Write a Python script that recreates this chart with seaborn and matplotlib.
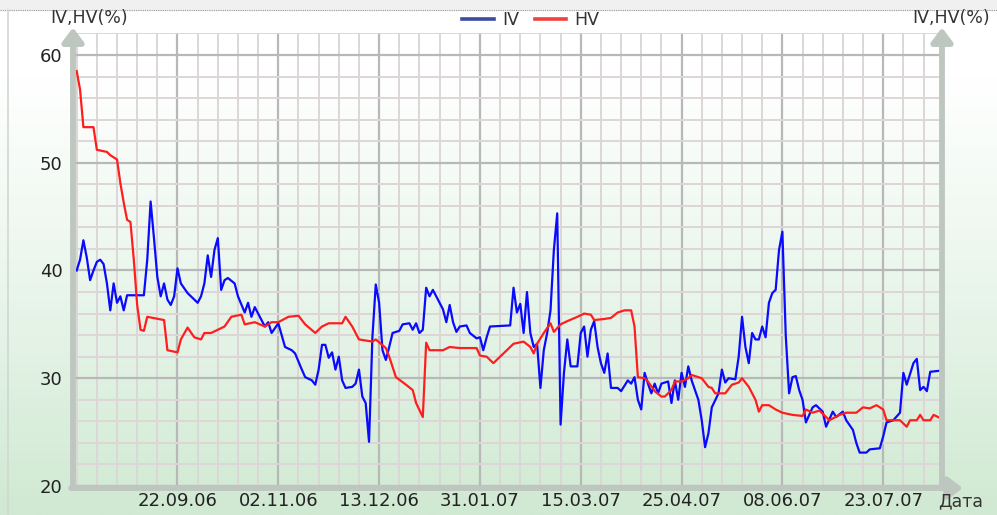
import numpy as np
import pandas as pd
import matplotlib
matplotlib.use("Agg")
import matplotlib.pyplot as plt
import seaborn as sns
from matplotlib.colors import LinearSegmentedColormap
from matplotlib.lines import Line2D
from matplotlib.patches import Rectangle

# trading-session number (x) and value in % for each series
hv_day = [0, 1, 2, 5, 6, 9, 10, 12, 13, 14, 15, 16, 17, 18, 19, 20, 21, 26, 27, 30,
          31, 33, 35, 37, 38, 40, 42, 44, 46, 49, 50, 53, 56, 58, 60, 63, 66, 68, 71, 73,
          75, 79, 80, 82, 84, 88, 89, 92, 93, 95, 98, 100, 101, 103, 104, 105, 109, 111, 114, 119,
          120, 122, 124, 126, 127, 130, 133, 135, 136, 137, 139, 141, 142, 144, 146, 149, 151, 153, 154, 157,
          159, 161, 163, 165, 166, 167, 169, 170, 172, 174, 175, 177, 178, 180, 182, 183, 186, 188, 189, 190,
          193, 195, 197, 198, 200, 202, 203, 204, 206, 208, 210, 213, 216, 217, 219, 221, 223, 224, 227, 229,
          232, 234, 236, 238, 240, 241, 245, 247, 248, 250, 251, 252, 254, 255, 257]
hv_val = [58.5, 56.8, 53.3, 53.3, 51.2, 51.0, 50.7, 50.3, 48.1, 46.3, 44.7, 44.5, 41.0, 36.8, 34.5, 34.4, 35.7, 35.4, 32.6, 32.4,
          33.6, 34.7, 33.8, 33.6, 34.2, 34.2, 34.5, 34.8, 35.7, 35.9, 35.0, 35.2, 34.8, 35.2, 35.2, 35.7, 35.8, 35.0, 34.2, 34.8,
          35.1, 35.1, 35.7, 34.8, 33.6, 33.4, 33.6, 32.8, 32.0, 30.1, 29.4, 28.9, 27.7, 26.4, 33.3, 32.6, 32.6, 32.9, 32.8, 32.8,
          32.1, 32.0, 31.4, 32.0, 32.3, 33.2, 33.4, 32.9, 32.3, 33.2, 34.2, 35.1, 34.3, 35.0, 35.3, 35.7, 36.0, 35.9, 35.4, 35.5,
          35.6, 36.1, 36.3, 36.3, 34.8, 30.1, 30.0, 29.7, 28.8, 28.3, 28.3, 28.9, 29.7, 29.7, 30.0, 30.3, 30.0, 29.2, 29.1, 28.6,
          28.6, 29.4, 29.6, 30.0, 29.2, 28.0, 26.9, 27.5, 27.5, 27.1, 26.8, 26.6, 26.5, 27.1, 26.8, 27.0, 26.4, 26.1, 26.6, 26.8,
          26.8, 27.3, 27.2, 27.5, 27.1, 26.1, 26.1, 25.5, 26.1, 26.1, 26.6, 26.1, 26.1, 26.6, 26.3]

iv_day = [0, 1, 2, 3, 4, 5, 6, 7, 8, 9, 10, 11, 12, 13, 14, 15, 20, 21, 22, 23,
          24, 25, 26, 27, 28, 29, 30, 31, 33, 34, 36, 37, 38, 39, 40, 41, 42, 43, 44, 45,
          47, 48, 50, 51, 52, 53, 55, 56, 57, 58, 60, 61, 62, 64, 65, 67, 68, 70, 71, 72,
          73, 74, 75, 76, 77, 78, 79, 80, 82, 83, 84, 85, 86, 87, 88, 89, 90, 91, 92, 93,
          94, 96, 97, 99, 100, 101, 102, 103, 104, 105, 106, 107, 108, 109, 110, 111, 112, 113, 114, 116,
          117, 119, 120, 121, 122, 123, 129, 130, 131, 132, 133, 134, 135, 136, 137, 138, 139, 140, 141, 142,
          143, 144, 145, 146, 147, 149, 150, 151, 152, 153, 154, 155, 156, 157, 158, 159, 161, 162, 164, 165,
          166, 167, 168, 169, 170, 171, 172, 173, 174, 176, 177, 178, 179, 180, 181, 182, 183, 185, 186, 187,
          188, 189, 191, 192, 193, 194, 196, 197, 198, 199, 200, 201, 202, 203, 204, 205, 206, 207, 208, 209,
          210, 211, 212, 213, 214, 215, 216, 217, 219, 220, 222, 223, 225, 226, 228, 229, 231, 232, 233, 235,
          236, 239, 240, 241, 243, 245, 246, 247, 249, 250, 251, 252, 253, 254, 257]
iv_val = [40.0, 41.0, 42.8, 41.2, 39.1, 40.0, 40.8, 41.0, 40.6, 38.8, 36.3, 38.8, 37.0, 37.6, 36.3, 37.7, 37.7, 41.0, 46.4, 43.0,
          39.4, 37.6, 38.8, 37.3, 36.8, 37.6, 40.2, 38.8, 37.9, 37.6, 37.0, 37.6, 38.8, 41.4, 39.4, 41.9, 43.0, 38.2, 39.1, 39.3,
          38.8, 37.6, 36.1, 37.0, 35.7, 36.6, 35.4, 34.8, 35.2, 34.2, 35.1, 34.0, 32.9, 32.6, 32.3, 30.8, 30.1, 29.8, 29.4, 30.8,
          33.1, 33.1, 31.9, 32.4, 30.8, 32.0, 29.8, 29.1, 29.2, 29.5, 30.8, 28.3, 27.7, 24.1, 33.8, 38.7, 37.0, 32.6, 31.7, 32.9,
          34.2, 34.4, 35.0, 35.1, 34.5, 35.1, 34.2, 34.5, 38.4, 37.6, 38.2, 37.6, 37.0, 36.4, 35.2, 36.8, 35.2, 34.3, 34.8, 34.9,
          34.2, 33.7, 33.8, 32.6, 33.8, 34.8, 34.9, 38.4, 36.1, 36.9, 34.2, 38.0, 34.2, 32.9, 33.2, 29.1, 32.6, 34.2, 36.3, 41.9,
          45.3, 25.7, 30.5, 33.6, 31.1, 31.1, 34.2, 34.8, 32.0, 34.5, 35.3, 32.9, 31.4, 30.5, 32.3, 29.1, 29.1, 28.8, 29.8, 29.5,
          30.1, 28.0, 27.1, 30.5, 29.5, 28.6, 29.5, 28.6, 29.5, 29.7, 27.7, 29.8, 28.0, 30.5, 29.2, 31.1, 29.8, 28.0, 26.1, 23.6,
          24.9, 27.3, 28.6, 30.8, 29.6, 30.0, 29.9, 32.0, 35.7, 32.9, 31.4, 34.2, 33.6, 33.6, 34.8, 33.8, 37.0, 37.9, 38.2, 41.9,
          43.6, 34.0, 28.6, 30.1, 30.2, 28.9, 28.0, 25.9, 27.3, 27.5, 26.9, 25.5, 26.9, 26.4, 26.9, 26.1, 25.2, 24.0, 23.1, 23.1,
          23.4, 23.5, 24.6, 25.9, 26.1, 26.8, 30.5, 29.4, 31.4, 31.8, 28.9, 29.2, 28.8, 30.6, 30.7]

date_labels = ["22.09.06", "02.11.06", "13.12.06", "31.01.07",
               "15.03.07", "25.04.07", "08.06.07", "23.07.07"]
label_step = 30  # sessions between date labels

df = pd.concat([
    pd.DataFrame({"day": iv_day, "value": iv_val, "series": "IV"}),
    pd.DataFrame({"day": hv_day, "value": hv_val, "series": "HV"}),
])

W, H = 997, 515
fig = plt.figure(figsize=(W / 100, H / 100), dpi=100)

# background: white at the top fading into pale green
bg = fig.add_axes([0, 0, 1, 1], zorder=0)
bg.axis("off")
cmap = LinearSegmentedColormap.from_list(
    "bg", [(0, "#ffffff"), (0.15, "#ffffff"), (0.55, "#eaf6ec"), (1, "#d0e9d2")])
bg.imshow(np.linspace(0, 1, 256).reshape(-1, 1), aspect="auto", cmap=cmap,
          extent=[0, 1, 0, 1], origin="upper")
bg.add_patch(Rectangle((0, 1 - 10 / H), 1, 10 / H, color="#f0f0f0"))
bg.axhline(1 - 10 / H, color="#9a9a9a", lw=0.8, ls=(0, (1, 1)))
bg.axvline(8 / W, ymax=1 - 10 / H, color="#d0d8d0", lw=1.2)
bg.set_xlim(0, 1)
bg.set_ylim(0, 1)

ax = fig.add_axes([75 / W, 29 / H, 867 / W, 452.6 / H], zorder=1)
ax.patch.set_alpha(0)

sns.lineplot(data=df, x="day", y="value", hue="series",
             palette={"IV": "#0a0aff", "HV": "#ff1e1e"},
             estimator=None, sort=False, lw=1.6, legend=False, ax=ax)

ax.set_xlim(-0.5, 257.5)
ax.set_ylim(20, 62)
ax.set_xticks([label_step * (k + 1) for k in range(len(date_labels))])
ax.set_xticklabels(date_labels)
ax.set_xticks(np.arange(0, 258, 6), minor=True)
ax.set_yticks([20, 30, 40, 50, 60])
ax.set_yticks(np.arange(22, 63, 2), minor=True)
ax.set_axisbelow(True)
ax.grid(which="minor", color="#ddd6d6", lw=1.4)
ax.grid(which="major", color="#b8b8b8", lw=1.6)
ax.tick_params(which="both", length=0, labelsize=13, labelcolor="#222222")
ax.tick_params(axis="y", pad=9)
ax.tick_params(axis="x", pad=4)
ax.set_xlabel("")
ax.set_ylabel("")
for s in ax.spines.values():
    s.set_visible(False)

# axis bars with arrow heads
axis_col = "#bec6c0"
arrow = dict(arrowstyle="-|>,head_width=0.45,head_length=0.6", lw=4.2,
             color=axis_col, shrinkA=0, shrinkB=0, mutation_scale=14)
ax.annotate("", xy=(-0.0023, 1.013), xytext=(-0.0023, -0.0045),
            xycoords="axes fraction", arrowprops=arrow, annotation_clip=False)
ax.annotate("", xy=(1.0, 1.013), xytext=(1.0, -0.0045),
            xycoords="axes fraction", arrowprops=arrow, annotation_clip=False)
ax.annotate("", xy=(1.024, -0.0045), xytext=(-0.0045, -0.0045),
            xycoords="axes fraction", arrowprops=arrow, annotation_clip=False)

txt = dict(fontsize=12.5, color="#333333", va="center")
fig.text(50 / W, 1 - 18 / H, "IV,HV(%)", ha="left", **txt)
fig.text(990 / W, 1 - 18 / H, "IV,HV(%)", ha="right", **txt)
fig.text(938 / W, 1 - 501 / H, "Дата", ha="left", **txt)

handles = [Line2D([], [], color="#3d4ca0", lw=2.6),
           Line2D([], [], color="#f04040", lw=2.6)]
fig.legend(handles, ["IV", "HV"], loc="center", bbox_to_anchor=(531 / W, 1 - 20 / H),
           ncol=2, frameon=False, fontsize=12.5, handlelength=1.8,
           handletextpad=0.5, columnspacing=0.9, labelcolor="#333333")

fig.savefig("out.png", dpi=100)
